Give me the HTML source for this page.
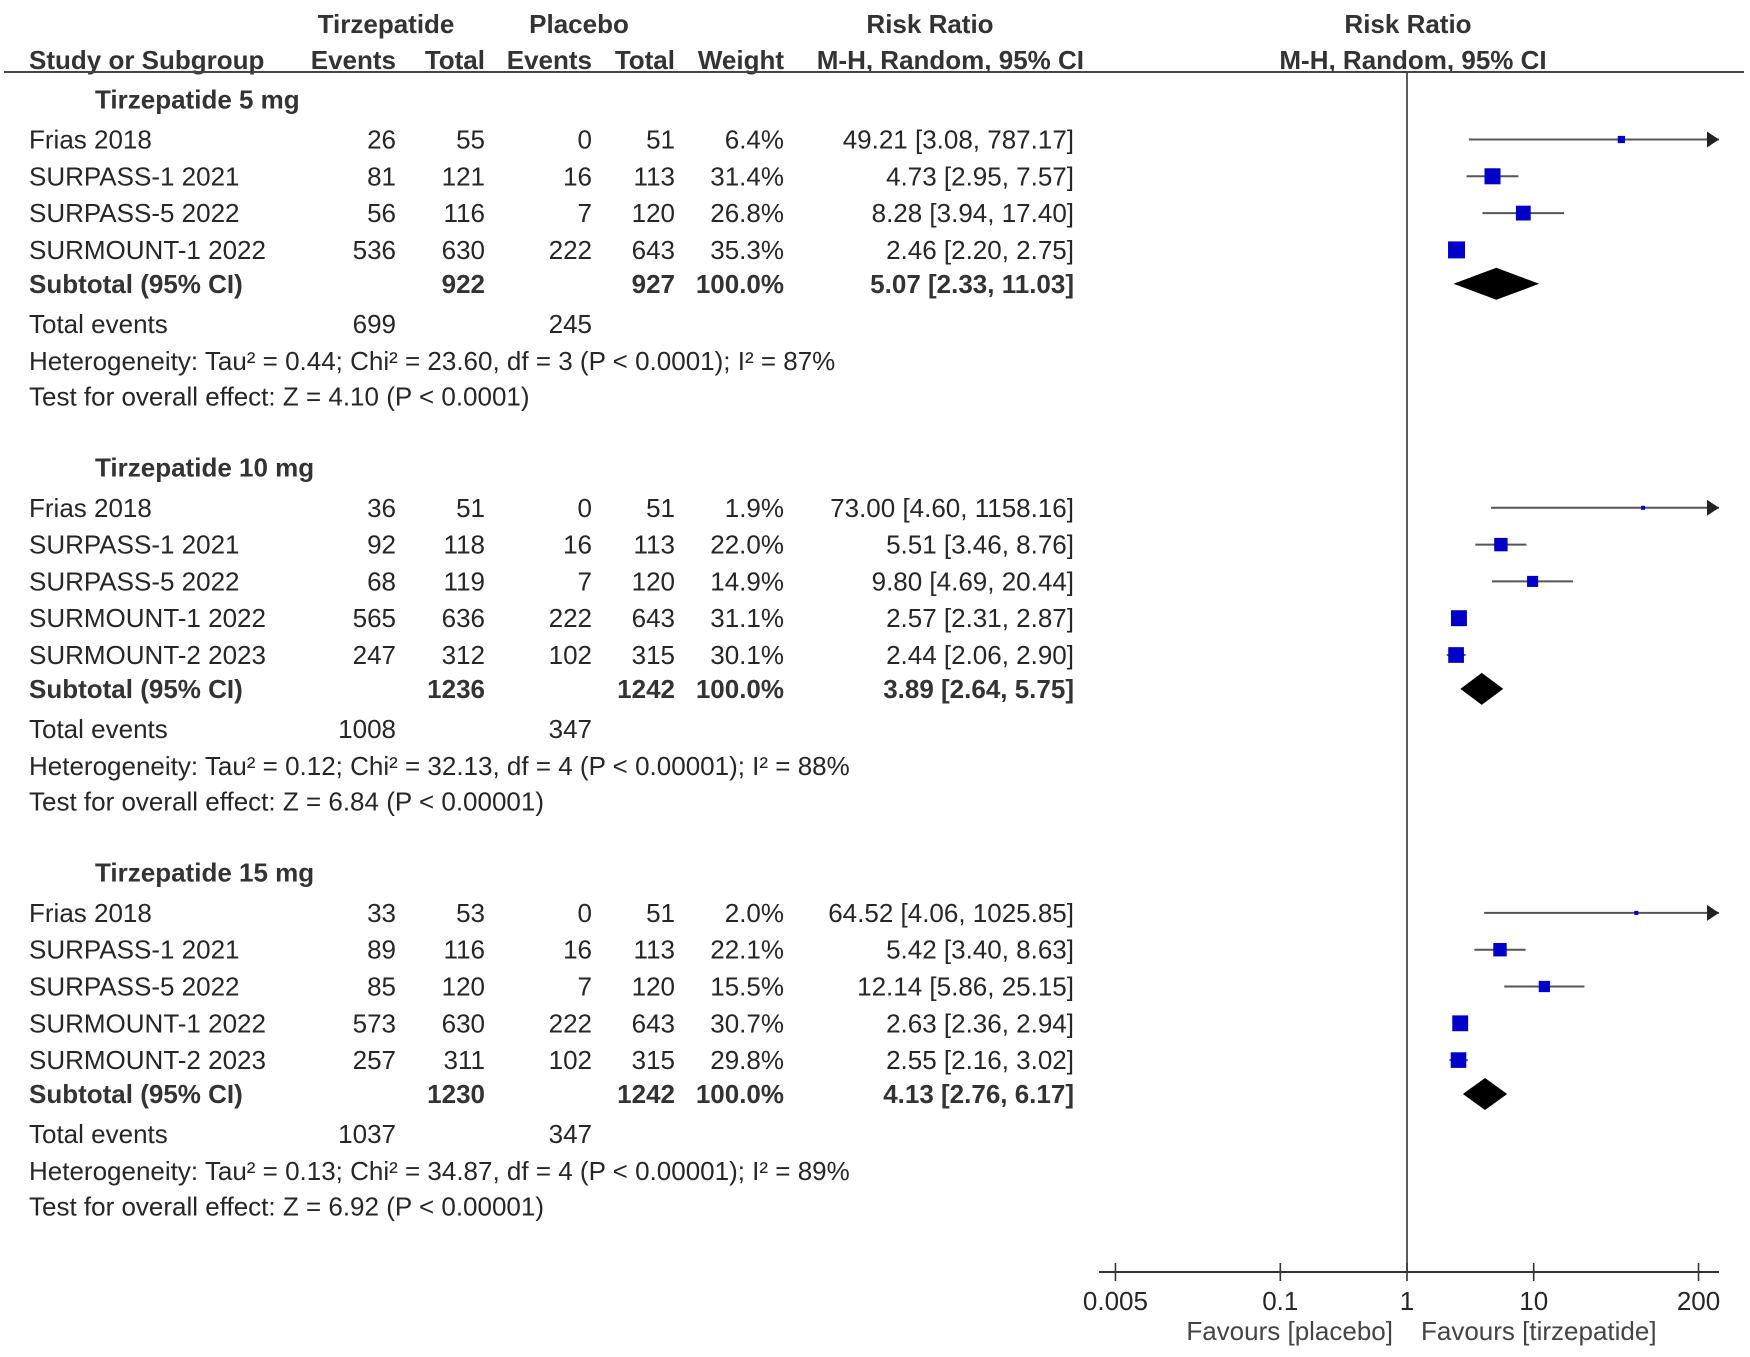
<!DOCTYPE html>
<html><head><meta charset="utf-8"><style>
html,body{margin:0;padding:0;background:#fff;}
svg{display:block;}
text{font-family:"Liberation Sans",Arial,sans-serif;font-size:26px;fill:#262626;}
.b{font-weight:bold;fill:#333;}
</style></head><body>
<svg id="plot" width="1750" height="1357" viewBox="0 0 1750 1357" xmlns="http://www.w3.org/2000/svg">
<g id="hdr">
<text class="b" x="386" y="33" text-anchor="middle">Tirzepatide</text>
<text class="b" x="579" y="33" text-anchor="middle">Placebo</text>
<text class="b" x="930" y="33" text-anchor="middle">Risk Ratio</text>
<text class="b" x="1408" y="33" text-anchor="middle">Risk Ratio</text>
<text class="b" x="29" y="69">Study or Subgroup</text>
<text class="b" x="396" y="69" text-anchor="end">Events</text>
<text class="b" x="485" y="69" text-anchor="end">Total</text>
<text class="b" x="592" y="69" text-anchor="end">Events</text>
<text class="b" x="675" y="69" text-anchor="end">Total</text>
<text class="b" x="784" y="69" text-anchor="end">Weight</text>
<text class="b" x="1084" y="69" text-anchor="end">M-H, Random, 95% CI</text>
<text class="b" x="1413" y="69" text-anchor="middle">M-H, Random, 95% CI</text>
</g>
<line x1="4" y1="72" x2="1744" y2="72" stroke="#444" stroke-width="2"/>
<line x1="1407" y1="72" x2="1407" y2="1272" stroke="#333" stroke-width="1.6"/>
<g id="rows"></g>
<g id="marks"></g>
<g id="axis"></g>
</svg>
<script>
const groupTitles = ["Tirzepatide 5 mg","Tirzepatide 10 mg","Tirzepatide 15 mg"];
const studyNames = [
 ["Frias 2018","SURPASS-1 2021","SURPASS-5 2022","SURMOUNT-1 2022"],
 ["Frias 2018","SURPASS-1 2021","SURPASS-5 2022","SURMOUNT-1 2022","SURMOUNT-2 2023"],
 ["Frias 2018","SURPASS-1 2021","SURPASS-5 2022","SURMOUNT-1 2022","SURMOUNT-2 2023"]];
const tirzEvents = [[26,81,56,536],[36,92,68,565,247],[33,89,85,573,257]];
const tirzTotal = [[55,121,116,630],[51,118,119,636,312],[53,116,120,630,311]];
const placEvents = [[0,16,7,222],[0,16,7,222,102],[0,16,7,222,102]];
const placTotal = [[51,113,120,643],[51,113,120,643,315],[51,113,120,643,315]];
const weights = [[6.4,31.4,26.8,35.3],[1.9,22.0,14.9,31.1,30.1],[2.0,22.1,15.5,30.7,29.8]];
const rr = [[49.21,4.73,8.28,2.46],[73.00,5.51,9.80,2.57,2.44],[64.52,5.42,12.14,2.63,2.55]];
const ciLow = [[3.08,2.95,3.94,2.20],[4.60,3.46,4.69,2.31,2.06],[4.06,3.40,5.86,2.36,2.16]];
const ciHigh = [[787.17,7.57,17.40,2.75],[1158.16,8.76,20.44,2.87,2.90],[1025.85,8.63,25.15,2.94,3.02]];
const subTirzTotal = [922,1236,1230];
const subPlacTotal = [927,1242,1242];
const subRR = [5.07,3.89,4.13];
const subLow = [2.33,2.64,2.76];
const subHigh = [11.03,5.75,6.17];
const totTirz = [699,1008,1037];
const totPlac = [245,347,347];
const hetText = ["Heterogeneity: Tau² = 0.44; Chi² = 23.60, df = 3 (P < 0.0001); I² = 87%",
 "Heterogeneity: Tau² = 0.12; Chi² = 32.13, df = 4 (P < 0.00001); I² = 88%",
 "Heterogeneity: Tau² = 0.13; Chi² = 34.87, df = 4 (P < 0.00001); I² = 89%"];
const testText = ["Test for overall effect: Z = 4.10 (P < 0.0001)",
 "Test for overall effect: Z = 6.84 (P < 0.00001)",
 "Test for overall effect: Z = 6.92 (P < 0.00001)"];
const tickValues = [0.005,0.1,1,10,200];
const tickLabels = ["0.005","0.1","1","10","200"];

const NS="http://www.w3.org/2000/svg";
const X0=1407, K=126.7, XMIN=1099, XMAX=1719;
function xs(v){return X0+Math.log10(v)*K;}
const rowsG=document.getElementById('rows'), marksG=document.getElementById('marks'), axisG=document.getElementById('axis');
function el(tag,attrs,parent){const e=document.createElementNS(NS,tag);for(const k in attrs)e.setAttribute(k,attrs[k]);parent.appendChild(e);return e;}
function txt(x,y,s,anchor,bold,name){const t=el('text',{x:x,y:y+9,'text-anchor':anchor||'start'},rowsG);if(bold)t.setAttribute('class','b');t.textContent=s;


return t;}
function fmt(v){return v.toFixed(2);}
function ciLine(y,lo,hi,name){
 const x1=Math.max(XMIN,xs(lo)), x2raw=xs(hi), x2=Math.min(XMAX,x2raw);
 const l=el('line',{x1:x1,y1:y,x2:x2,y2:y,stroke:'#555','stroke-width':2},marksG);
 
 
 if(x2raw>XMAX){const a=el('polygon',{points:`${XMAX-12},${y-8} ${XMAX},${y} ${XMAX-12},${y+8}`,fill:'#222'},marksG);
 
 }
}
let y=99.3;
for(let g=0;g<3;g++){
 txt(95,y,groupTitles[g],'start',true,'subgroup-title');
 for(let i=0;i<studyNames[g].length;i++){
  y+= (i===0?40.2:36.8);
  txt(29,y,studyNames[g][i],'start',false,'study-name');
  txt(396,y,String(tirzEvents[g][i]),'end',false,'tirz-events');
  txt(485,y,String(tirzTotal[g][i]),'end',false,'tirz-total');
  txt(592,y,String(placEvents[g][i]),'end',false,'placebo-events');
  txt(675,y,String(placTotal[g][i]),'end',false,'placebo-total');
  txt(784,y,weights[g][i].toFixed(1)+'%','end',false,'weight');
  txt(1074,y,`${fmt(rr[g][i])} [${fmt(ciLow[g][i])}, ${fmt(ciHigh[g][i])}]`,'end',false,'risk-ratio-ci');
  ciLine(y,ciLow[g][i],ciHigh[g][i],'study');
  const s=2.86*Math.sqrt(weights[g][i]);const cx=xs(rr[g][i]);
  const r=el('rect',{x:cx-s/2,y:y-s/2,width:s,height:s,fill:'#0000c8'},marksG);
  
  
 }
 y+=33.9;
 txt(29,y,'Subtotal (95% CI)','start',true,'subtotal-label');
 txt(485,y,String(subTirzTotal[g]),'end',true,'subtotal-tirz-total');
 txt(675,y,String(subPlacTotal[g]),'end',true,'subtotal-placebo-total');
 txt(784,y,'100.0%','end',true,'subtotal-weight');
 txt(1074,y,`${fmt(subRR[g])} [${fmt(subLow[g])}, ${fmt(subHigh[g])}]`,'end',true,'subtotal-risk-ratio');
 const d=el('polygon',{points:`${xs(subLow[g])},${y} ${xs(subRR[g])},${y-16} ${xs(subHigh[g])},${y} ${xs(subRR[g])},${y+16}`,fill:'#000'},marksG);
 
 
 y+=40;
 txt(29,y,'Total events','start',false,'total-events-label');
 txt(396,y,String(totTirz[g]),'end',false,'total-tirz-events');
 txt(592,y,String(totPlac[g]),'end',false,'total-placebo-events');
 y+=37; txt(29,y,hetText[g],'start',false,'heterogeneity');
 y+=35.7; txt(29,y,testText[g],'start',false,'overall-effect');
 y+=71.1;
}
// axis
const AY=1272;
const al=el('line',{x1:XMIN,y1:AY,x2:XMAX,y2:AY,stroke:'#333','stroke-width':2},axisG);


for(let i=0;i<tickValues.length;i++){
 const x=xs(tickValues[i]);
 const t=el('line',{x1:x,y1:AY-9,x2:x,y2:AY+9,stroke:'#333','stroke-width':1.6},axisG);
 
 
 const lb=el('text',{x:x,y:1310,'text-anchor':'middle'},axisG);
 lb.textContent=tickLabels[i];
 
 
}
const f1=el('text',{x:X0-14,y:1340,'text-anchor':'end',style:'fill:#444'},axisG);f1.textContent='Favours [placebo]';


const f2=el('text',{x:X0+14,y:1340,'text-anchor':'start',style:'fill:#444'},axisG);f2.textContent='Favours [tirzepatide]';


</script>
</body></html>
